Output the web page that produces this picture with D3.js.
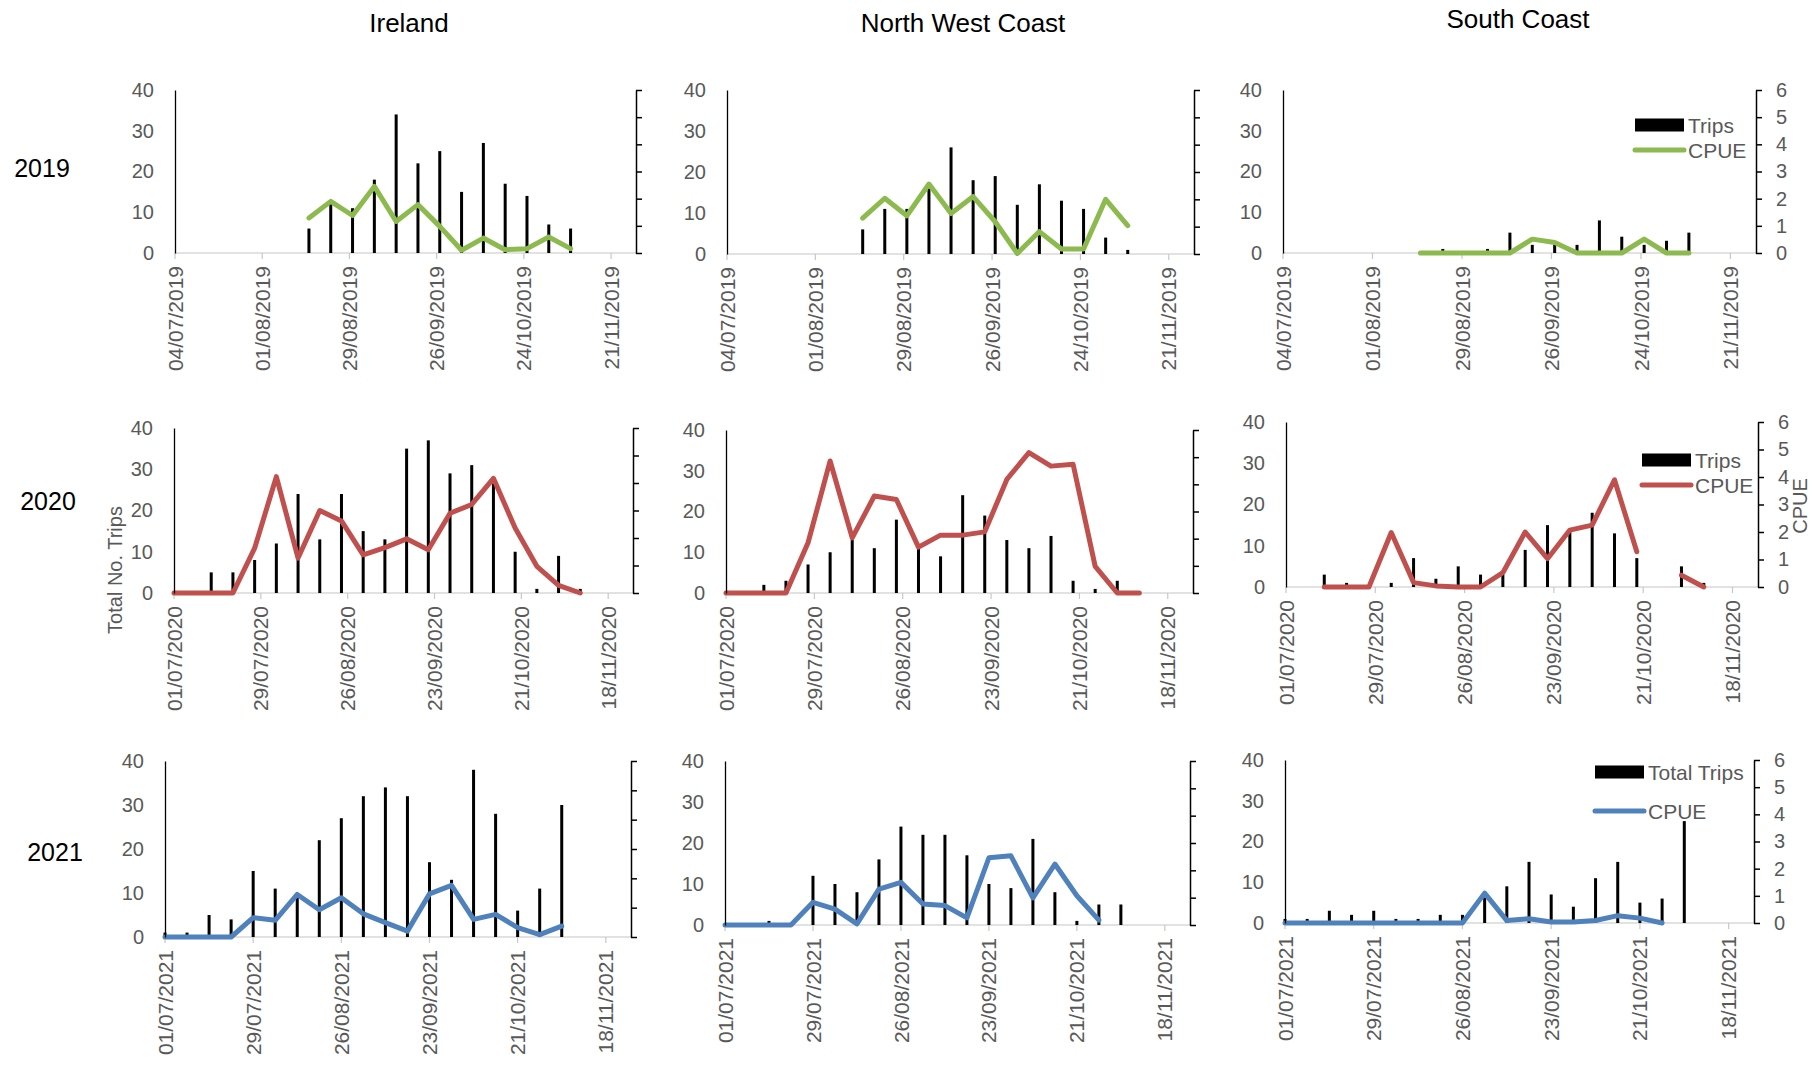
<!DOCTYPE html>
<html>
<head>
<meta charset="utf-8">
<script src="https://cdn.jsdelivr.net/npm/d3@7"></script>
<style>
  body { margin: 0; background: #fff; }
  svg text { font-family: "Liberation Sans", Arial, sans-serif; }
</style>
</head>
<body>
<svg id="chart" width="1818" height="1066"></svg>
<script>
// ---- data ----
const regions = ["Ireland", "North West Coast", "South Coast"];
const years = ["2019", "2020", "2021"];

const tickLabels2019 = ["04/07/2019", "01/08/2019", "29/08/2019", "26/09/2019", "24/10/2019", "21/11/2019"];
const tickLabels2020 = ["01/07/2020", "29/07/2020", "26/08/2020", "23/09/2020", "21/10/2020", "18/11/2020"];
const tickLabels2021 = ["01/07/2021", "29/07/2021", "26/08/2021", "23/09/2021", "21/10/2021", "18/11/2021"];

const weeks2019 = ["16/08/2019", "23/08/2019", "30/08/2019", "06/09/2019", "13/09/2019", "20/09/2019", "27/09/2019",
  "04/10/2019", "11/10/2019", "18/10/2019", "25/10/2019", "01/11/2019", "08/11/2019"];
const weeks2020 = ["01/07/2020", "13/07/2020", "20/07/2020", "27/07/2020", "03/08/2020", "10/08/2020", "17/08/2020",
  "24/08/2020", "31/08/2020", "07/09/2020", "14/09/2020", "21/09/2020", "28/09/2020", "05/10/2020", "12/10/2020",
  "19/10/2020", "26/10/2020", "02/11/2020", "09/11/2020"];
const weeks2021 = ["01/07/2021", "08/07/2021", "15/07/2021", "22/07/2021", "29/07/2021", "05/08/2021", "12/08/2021",
  "19/08/2021", "26/08/2021", "02/09/2021", "09/09/2021", "16/09/2021", "23/09/2021", "30/09/2021", "07/10/2021",
  "14/10/2021", "21/10/2021", "28/10/2021", "04/11/2021"];

const trips2019Ireland = [6, 12, 11, 18, 34, 22, 25, 15, 27, 17, 14, 7, 6];
const cpue2019Ireland = [1.29, 1.9, 1.38, 2.45, 1.16, 1.78, 0.98, 0.1, 0.55, 0.12, 0.16, 0.59, 0.16];
const trips2019NorthWest = [6, 11, 11, 16, 26, 18, 19, 12, 17, 13, 11, 4, 1];
const cpue2019NorthWest = [1.31, 2.04, 1.4, 2.56, 1.48, 2.1, 1.18, 0.02, 0.82, 0.18, 0.18, 2.0, 1.04];
const trips2019South = [0, 1, 0, 1, 5, 2, 2, 2, 8, 4, 2, 3, 5];
const cpue2019South = [0, 0, 0, 0, 0, 0.51, 0.39, 0, 0, 0, 0.51, 0, 0];

const trips2020Ireland = [null, 5, 5, 8, 12, 24, 13, 24, 15, 13, 35, 37, 29, 31, 27, 10, 1, 9, 1];
const cpue2020Ireland = [0, 0, 0, 1.63, 4.23, 1.27, 3.0, 2.62, 1.39, 1.65, 1.97, 1.57, 2.9, 3.22, 4.17, 2.36, 0.97, 0.28, 0];
const trips2020NorthWest = [null, 2, 3, 7, 10, 13, 11, 18, 11, 9, 24, 19, 13, 11, 14, 3, 1, 3, null];
const cpue2020NorthWest = [0, 0, 0, 1.85, 4.86, 2.03, 3.57, 3.44, 1.69, 2.13, 2.13, 2.25, 4.18, 5.17, 4.67, 4.74, 0.98, 0, 0];
const trips2020South = [null, 3, 1, 0, 1, 7, 2, 5, 3, 3, 9, 15, 14, 18, 13, 7, null, 5, 1];
const cpue2020South = [null, 0, 0, 0, 1.98, 0.16, 0.04, 0, 0, 0.52, 2.0, 1.03, 2.07, 2.25, 3.9, 1.28, null, 0.43, 0];

const trips2021Ireland = [1, 1, 5, 4, 15, 11, 10, 22, 27, 32, 34, 32, 17, 13, 38, 28, 6, 11, 30];
const cpue2021Ireland = [0, 0, 0, 0, 0.66, 0.57, 1.45, 0.93, 1.34, 0.79, 0.49, 0.2, 1.47, 1.76, 0.6, 0.77, 0.32, 0.08, 0.37];
const trips2021NorthWest = [null, null, 1, null, 12, 10, 8, 16, 24, 22, 22, 17, 10, 9, 21, 8, 1, 5, 5];
const cpue2021NorthWest = [0, 0, 0, 0, 0.83, 0.58, 0.04, 1.31, 1.56, 0.77, 0.71, 0.26, 2.46, 2.53, 0.99, 2.23, 1.07, 0.18, null];
const trips2021South = [1, 1, 3, 2, 3, 1, 1, 2, 2, 7, 9, 15, 7, 4, 11, 15, 5, 6, 25];
const cpue2021South = [0, 0, 0, 0, 0, 0, 0, 0, 0, 1.1, 0.09, 0.16, 0.04, 0.04, 0.09, 0.27, 0.18, 0, null];

const legendLabels = [["Trips", "CPUE"], ["Trips", "CPUE"], ["Total Trips", "CPUE"]];
const leftTicks = [0, 10, 20, 30, 40];
const rightTicks = [0, 1, 2, 3, 4, 5, 6];

// ---- layout (each panel was a separate Excel chart) ----
const lineColors = ["#8DBA4E", "#C0504D", "#4F81BD"];
const boxes = [
  [{ l: 175, r: 636, t: 90, b: 253 }, { l: 727, r: 1194, t: 90, b: 254 }, { l: 1283, r: 1756, t: 90, b: 253 }],
  [{ l: 174, r: 633, t: 428, b: 593 }, { l: 726, r: 1193, t: 430, b: 593 }, { l: 1286, r: 1758, t: 422, b: 587 }],
  [{ l: 165, r: 631, t: 761, b: 937 }, { l: 725, r: 1190, t: 761, b: 925 }, { l: 1285, r: 1754, t: 760, b: 923 }]
];
const titlePos = [{ x: 409, y: 32 }, { x: 963, y: 32 }, { x: 1518, y: 28 }];
const yearPos = [{ x: 42, y: 168 }, { x: 48, y: 501 }, { x: 55, y: 852 }];
const legendPos = [{ x: 1635, y: 125, gap: 25 }, { x: 1642, y: 460, gap: 25 }, { x: 1595, y: 772, gap: 39 }];

const parse = d3.timeParse("%d/%m/%Y");
const grey = "#595959";

const rows = [
  { ticks: tickLabels2019, weeks: weeks2019,
    trips: [trips2019Ireland, trips2019NorthWest, trips2019South],
    cpue: [cpue2019Ireland, cpue2019NorthWest, cpue2019South] },
  { ticks: tickLabels2020, weeks: weeks2020,
    trips: [trips2020Ireland, trips2020NorthWest, trips2020South],
    cpue: [cpue2020Ireland, cpue2020NorthWest, cpue2020South] },
  { ticks: tickLabels2021, weeks: weeks2021,
    trips: [trips2021Ireland, trips2021NorthWest, trips2021South],
    cpue: [cpue2021Ireland, cpue2021NorthWest, cpue2021South] }
];

const svg = d3.select("#chart");

// column titles
regions.forEach((name, i) => {
  svg.append("text")
    .attr("x", titlePos[i].x).attr("y", titlePos[i].y)
    .attr("text-anchor", "middle")
    .style("font-size", "26px")
    .style("fill", "#000")
    .text(name);
});

// row (year) labels
years.forEach((yr, i) => {
  svg.append("text")
    .attr("x", yearPos[i].x).attr("y", yearPos[i].y)
    .attr("text-anchor", "middle")
    .attr("dominant-baseline", "central")
    .style("font-size", "25px")
    .style("fill", "#000")
    .text(yr);
});

function drawPanel(row, col) {
  const box = boxes[row][col];
  const rd = rows[row];
  const color = lineColors[row];
  const start = parse(rd.ticks[0]);
  const g = svg.append("g").attr("class", "panel");

  const x = d3.scaleTime()
    .domain([start, d3.timeDay.offset(start, 148)])
    .range([box.l, box.r]);
  const yL = d3.scaleLinear().domain([0, 40]).range([box.b, box.t]);
  const yR = d3.scaleLinear().domain([0, 6]).range([box.b, box.t]);

  const pts = rd.weeks.map((w, i) => ({ date: parse(w), trips: rd.trips[col][i], cpue: rd.cpue[col][i] }));

  // x axis line + ticks + rotated date labels
  const xg = g.append("g").attr("class", "x-axis");
  xg.append("line")
    .attr("x1", box.l).attr("x2", box.r)
    .attr("y1", box.b).attr("y2", box.b)
    .style("stroke", "#d9d9d9").style("stroke-width", 1.3);
  rd.ticks.forEach(lbl => {
    const tx = x(parse(lbl));
    xg.append("line")
      .attr("x1", tx).attr("x2", tx)
      .attr("y1", box.b).attr("y2", box.b + 6)
      .style("stroke", "#c8c8c8").style("stroke-width", 1.2);
    xg.append("text")
      .attr("transform", `translate(${tx},${box.b + 13}) rotate(-90)`)
      .attr("text-anchor", "end")
      .attr("dy", "0.36em")
      .style("font-size", "21px")
      .style("fill", grey)
      .text(lbl);
  });

  // bars (trips)
  g.selectAll(".bar")
    .data(pts.filter(d => d.trips != null && d.trips > 0))
    .enter().append("rect")
    .attr("class", "bar")
    .attr("x", d => x(d.date) - 1.5)
    .attr("width", 3)
    .attr("y", d => yL(d.trips))
    .attr("height", d => yL(0) - yL(d.trips))
    .attr("fill", "#000");

  // CPUE line
  const line = d3.line()
    .defined(d => d.cpue != null)
    .x(d => x(d.date))
    .y(d => yR(d.cpue));
  g.append("path")
    .datum(pts)
    .attr("d", line)
    .attr("fill", "none")
    .attr("stroke", color)
    .attr("stroke-width", 5)
    .attr("stroke-linejoin", "round")
    .attr("stroke-linecap", "round");

  // left axis
  const la = g.append("g")
    .attr("transform", `translate(${box.l},0)`)
    .call(d3.axisLeft(yL).tickValues(leftTicks).tickSize(0).tickPadding(21));
  la.select(".domain").style("stroke", "#000").style("stroke-width", 1.3);
  la.selectAll("text").style("font-size", "20px").style("fill", grey)
    .style("font-family", '"Liberation Sans", Arial, sans-serif');

  // right axis
  const ra = g.append("g")
    .attr("transform", `translate(${box.r},0)`)
    .call(d3.axisRight(yR).tickValues(rightTicks).tickSize(6).tickSizeOuter(0).tickPadding(14)
      .tickFormat(col === 2 ? d3.format("d") : () => ""));
  ra.select(".domain").style("stroke", "#000").style("stroke-width", 1.5);
  ra.selectAll(".tick line").style("stroke", "#000").style("stroke-width", 1.5);
  ra.selectAll("text").style("font-size", "20px").style("fill", grey)
    .style("font-family", '"Liberation Sans", Arial, sans-serif');

  // legend in the South Coast column
  if (col === 2) {
    const lp = legendPos[row];
    const lg = g.append("g").attr("class", "legend-group");
    lg.append("rect")
      .attr("x", lp.x).attr("y", lp.y - 6.5)
      .attr("width", 49).attr("height", 13)
      .attr("fill", "#000");
    lg.append("line")
      .attr("x1", lp.x).attr("x2", lp.x + 49)
      .attr("y1", lp.y + lp.gap).attr("y2", lp.y + lp.gap)
      .style("stroke", color).style("stroke-width", 5).style("stroke-linecap", "round");
    legendLabels[row].forEach((t, i) => {
      lg.append("text")
        .attr("x", lp.x + 53)
        .attr("y", lp.y + i * lp.gap)
        .attr("dominant-baseline", "central")
        .style("font-size", "21px")
        .style("fill", grey)
        .text(t);
    });
  }
}

for (let r = 0; r < 3; r++) {
  for (let c = 0; c < 3; c++) drawPanel(r, c);
}

// axis titles on the 2020 row
svg.append("text")
  .attr("transform", "translate(115,570) rotate(-90)")
  .attr("text-anchor", "middle")
  .attr("dominant-baseline", "central")
  .style("font-size", "20px")
  .style("fill", grey)
  .text("Total No. Trips");

svg.append("text")
  .attr("transform", "translate(1800,506) rotate(-90)")
  .attr("text-anchor", "middle")
  .attr("dominant-baseline", "central")
  .style("font-size", "20px")
  .style("fill", grey)
  .text("CPUE");
</script>
</body>
</html>
